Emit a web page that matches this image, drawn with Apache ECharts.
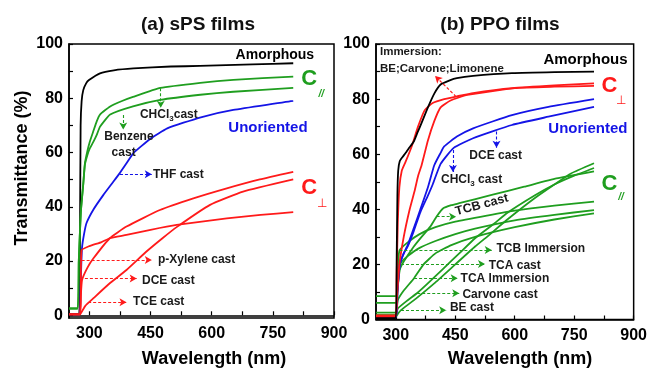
<!DOCTYPE html>
<html><head><meta charset="utf-8">
<script src="https://cdn.jsdelivr.net/npm/echarts@6/dist/echarts.min.js"></script>
<style>html,body{margin:0;padding:0;background:#fff}#c{width:650px;height:368px}</style>
</head><body><div id="c"></div>
<script>
// ---------- tick labels ----------
const xTickLabels = [300, 450, 600, 750, 900];
const xTickMarks = [300, 375, 450, 525, 600, 675, 750, 825, 900];
const yTickLabels = [0, 20, 40, 60, 80, 100];
const yTickMarks = [0, 10, 20, 30, 40, 50, 60, 70, 80, 90, 100];

// ---------- (a) sPS films : [wavelength nm, transmittance %] ----------
const sPS_amorphous = [[250,0.5],[275,0.5],[277,30],[278.5,70],[281,79],[285,83],[292,85.5],[299,86.7],[326,89.2],[360,90.3],[408,91],[500,91.7],[571,91.9],[700,92.5],[800,92.9]];
const sPS_Cpar_benzene = [[250,2.5],[271,2.5],[274,20],[279,38],[285,48.4],[289,56],[295,60.5],[301,64],[310,68],[318,71.5],[326,74],[351,77],[380,79],[407,80.5],[474,83.8],[572,85.7],[653,86.8],[800,88]];
const sPS_Cpar_chcl3 = [[250,2.5],[271,2.5],[274,20],[279,38],[285,48.4],[289,55.5],[295,59],[301,61.5],[310,64],[318,66.5],[326,69.5],[351,74],[407,77],[474,79.4],[572,81.3],[653,82.4],[800,83.8]];
const sPS_unoriented_thf = [[250,0.3],[276,0.3],[278,8],[280,18],[282,25],[287,30],[293,34],[310,39],[334,44.3],[355,48.5],[375,52.5],[391,56],[408,59.8],[449,65],[491,68.9],[571,72.9],[653,75.7],[800,79]];
const sPS_Cperp_pxylene = [[250,0.3],[277,0.3],[279,12],[281,24],[300,25.5],[330,27],[350,28.4],[391,29.6],[450,31.5],[514,33.3],[637,35.7],[720,37],[800,38]];
const sPS_Cperp_dce = [[250,0.3],[277,0.3],[279,7],[282,13],[295,17.5],[310,21],[350,28.4],[391,32.7],[473,38.8],[555,43.1],[637,46.8],[718,50.1],[800,52.9]];
const sPS_Cperp_tce = [[250,0.3],[277,0.3],[282,1.5],[290,3.5],[310,6.3],[350,11.8],[391,16.7],[440,23.5],[480,28.5],[514,32.5],[596,40.7],[677,45.6],[800,50.1]];

// ---------- (b) PPO films ----------
const PPO_amorphous = [[250,0.5],[300,0.5],[302,20],[304,45],[306,54],[310,57.5],[317,59],[325,60.5],[332,62],[345,64.5],[355,68],[364,71],[381,77],[397,82],[413,85.3],[436,86.8],[454,87.6],[495,88.4],[593,89.4],[700,89.8],[800,90]];
const PPO_Cperp_1 = [[250,1],[300,1],[302,15],[305,35],[309,48],[315,54],[324,57],[340,62.8],[356,70],[373,76],[393,78.6],[422,80],[454,81],[495,82.2],[593,84],[700,85],[800,85.7]];
const PPO_Cperp_2 = [[250,1.5],[300,1.5],[303,8],[309,20],[320,30],[335,40],[348,47],[356,52],[365,56],[381,65],[397,72],[413,77],[438,79.5],[480,81.5],[600,84],[700,84.5],[800,84.8]];
const PPO_unoriented_dce = [[250,1],[300,1],[304,10],[310,20],[320,24],[330,27],[345,33],[362,40],[381,48],[397,56],[413,60.5],[422,62.8],[454,66.4],[495,69.4],[593,74.2],[685,77.2],[800,80]];
const PPO_unoriented_chcl3 = [[250,1],[300,1],[304,10],[310,20],[320,24],[330,26.5],[345,32],[362,39],[381,45],[393,49],[413,56.5],[446,62.3],[495,65.8],[593,70.6],[685,73.6],[800,77.2]];
const PPO_Cpar_tcbCast = [[250,1.5],[300,1.5],[304,10],[310,18],[320,21],[345,26.4],[365,30],[387,33.7],[403,37.4],[419,40.3],[440,41.5],[460,42.2],[542,45.2],[624,48.2],[705,51.2],[800,53.8]];
const PPO_Cpar_tcbImm = [[250,6],[300,6],[304,15],[309,25],[330,28],[360,31],[400,33.5],[450,35.5],[530,37.7],[600,39.5],[700,41.3],[800,42.8]];
const PPO_Cpar_tcaCast = [[250,8.5],[300,8.5],[305,15],[313,20.6],[330,23],[360,26],[400,28.5],[450,31],[500,33],[600,36],[700,38],[800,39.7]];
const PPO_Cpar_tcaImm = [[250,2.5],[300,2.5],[305,7],[320,10.5],[346,15],[370,20],[400,24],[440,27],[500,30],[600,33.5],[700,36.3],[800,38.5]];
const PPO_Cpar_carvone = [[250,1.6],[300,1.6],[305,4],[330,7],[354,9.6],[380,13],[420,18.5],[460,24],[500,29.5],[550,35],[579,38.5],[650,45],[700,49],[750,52.2],[800,55]];
const PPO_Cpar_be = [[250,1],[300,1],[305,2],[313,3.4],[350,7.5],[400,13.5],[450,20],[500,26.5],[530,30],[579,36],[650,44],[700,49],[742,53],[800,56.7]];

// ---------- colours / fonts ----------
const BLACK = '#000000', GREEN = '#1f9e1f', BLUE = '#1414e6', RED = '#ff1a1a', TXT = '#1a1a1a';
const FF = 'Liberation Sans, Arial, sans-serif';

// annotation arrows: [x1, y1, x2, y2, colour]
const arrowsA = [
  [475, 83.7, 475, 76.5, GREEN],
  [383, 73.8, 383, 68.5, GREEN],
  [375, 52, 453, 52, BLUE],
  [281, 20.4, 453, 20.4, RED],
  [289, 13.6, 416, 13.6, RED],
  [297, 4.8, 391, 4.8, RED]
];
const arrowsB = [
  [452, 80.9, 399, 88.4, RED],
  [554, 68.2, 554, 62.3, BLUE],
  [444, 61.5, 444, 53.5, BLUE],
  [403, 37.3, 452, 37.3, GREEN],
  [309, 25.2, 542, 25.2, GREEN],
  [313, 20.1, 525, 20.1, GREEN],
  [346, 15, 456, 15, GREEN],
  [354, 9.5, 460, 9.5, GREEN],
  [313, 3.4, 427, 3.4, GREEN]
];

function mk(name, data, color, xi) {
  return { name, type: 'line', xAxisIndex: xi, yAxisIndex: xi, data, showSymbol: false,
    smooth: 0.15, lineStyle: { color, width: 1.8, join: 'round' }, itemStyle: { color }, z: 3 };
}
function arrowSeries(list, xi) {
  return list.map(a => ({
    type: 'line', xAxisIndex: xi, yAxisIndex: xi, data: [], silent: true,
    markLine: { silent: true, symbol: ['none', 'arrow'], symbolSize: [6, 7], animation: false,
      label: { show: false }, lineStyle: { color: a[4], type: [3, 2], width: 1.1 },
      data: [[{ coord: [a[0], a[1]] }, { coord: [a[2], a[3]] }]] }
  }));
}

function xAxisCfg(gi) {
  return { type: 'value', gridIndex: gi, min: 250, max: 900,
    axisLine: { show: true, lineStyle: { color: '#000', width: 1.5 } },
    axisTick: { show: true, inside: true, length: 4, customValues: xTickMarks, lineStyle: { color: '#000', width: 1.2 } },
    axisLabel: { customValues: xTickLabels, color: '#000', fontSize: 16, fontWeight: 'bold', fontFamily: FF, margin: 8 },
    splitLine: { show: false } };
}
function yAxisCfg(gi, mn) {
  return { type: 'value', gridIndex: gi, min: mn, max: 100,
    axisLine: { show: true, lineStyle: { color: '#000', width: 1.5 } },
    axisTick: { show: true, inside: true, length: 4, customValues: yTickMarks, lineStyle: { color: '#000', width: 1.2 } },
    axisLabel: { customValues: yTickLabels, color: '#000', fontSize: 16, fontWeight: 'bold', fontFamily: FF, margin: 6 },
    splitLine: { show: false } };
}

const chart = echarts.init(document.getElementById('c'), null, { renderer: 'canvas' });
chart.setOption({
  animation: false,
  backgroundColor: '#fff',
  grid: [
    { left: 69, top: 44, width: 265, height: 274, show: true, borderColor: '#000', borderWidth: 1.5 },
    { left: 376, top: 44, width: 265, height: 275.5, show: true, borderColor: '#000', borderWidth: 1.5 }
  ],
  xAxis: [xAxisCfg(0), xAxisCfg(1)],
  yAxis: [yAxisCfg(0, -1), yAxisCfg(1, 0)],
  series: [
    mk('sPS amorphous', sPS_amorphous, BLACK, 0),
    mk('sPS C// benzene', sPS_Cpar_benzene, GREEN, 0),
    mk('sPS C// CHCl3', sPS_Cpar_chcl3, GREEN, 0),
    mk('sPS unoriented THF', sPS_unoriented_thf, BLUE, 0),
    mk('sPS Cperp p-xylene', sPS_Cperp_pxylene, RED, 0),
    mk('sPS Cperp DCE', sPS_Cperp_dce, RED, 0),
    mk('sPS Cperp TCE', sPS_Cperp_tce, RED, 0),
    mk('PPO C// TCB cast', PPO_Cpar_tcbCast, GREEN, 1),
    mk('PPO C// TCB imm', PPO_Cpar_tcbImm, GREEN, 1),
    mk('PPO C// TCA cast', PPO_Cpar_tcaCast, GREEN, 1),
    mk('PPO C// TCA imm', PPO_Cpar_tcaImm, GREEN, 1),
    mk('PPO C// carvone', PPO_Cpar_carvone, GREEN, 1),
    mk('PPO C// BE', PPO_Cpar_be, GREEN, 1),
    mk('PPO unoriented DCE', PPO_unoriented_dce, BLUE, 1),
    mk('PPO unoriented CHCl3', PPO_unoriented_chcl3, BLUE, 1),
    mk('PPO Cperp 1', PPO_Cperp_1, RED, 1),
    mk('PPO Cperp 2', PPO_Cperp_2, RED, 1),
    mk('PPO amorphous', PPO_amorphous, BLACK, 1)
  ].concat(arrowSeries(arrowsA, 0), arrowSeries(arrowsB, 1))
});

// text annotations anchored in data coordinates: [grid, x, y, text, colour, size, weight, align, rotationDeg, rich, style]
const SUB = { sub: { fontSize: 8, fontFamily: FF, fontWeight: 'bold', fill: TXT, padding: [7, 0, 0, 0] } };
const notes = [
  [0, 755, 96, 'Amorphous', BLACK, 14, 'bold', 'center'],
  [0, 839, 87, 'C', GREEN, 22, 'bold', 'center'],
  [0, 869, 81.5, '//', GREEN, 10, 'bold', 'center', 0, null, 'italic'],
  [0, 424, 73.8, 'CHCl{sub|3}cast', TXT, 12, 'bold', 'left', 0, SUB],
  [0, 397, 65.7, 'Benzene', TXT, 12, 'bold', 'center'],
  [0, 384, 59.8, 'cast', TXT, 12, 'bold', 'center'],
  [0, 738, 69, 'Unoriented', BLUE, 15, 'bold', 'center'],
  [0, 456, 52, 'THF cast', TXT, 12, 'bold', 'left'],
  [0, 839, 47, 'C', RED, 22, 'bold', 'center'],
  [0, 871, 41.3, '⊥', RED, 12, 'normal', 'center'],
  [0, 468, 20.4, 'p-Xylene cast', TXT, 12, 'bold', 'left'],
  [0, 429, 12.8, 'DCE cast', TXT, 12, 'bold', 'left'],
  [0, 407, 4.9, 'TCE cast', TXT, 12, 'bold', 'left'],
  [1, 260, 97.1, 'Immersion:', TXT, 11.5, 'bold', 'left'],
  [1, 260, 91, 'BE;Carvone;Limonene', TXT, 11.5, 'bold', 'left'],
  [1, 778.5, 94.2, 'Amorphous', BLACK, 15, 'bold', 'center'],
  [1, 838.7, 84.8, 'C', RED, 22, 'bold', 'center'],
  [1, 868, 79.3, '⊥', RED, 12, 'normal', 'center'],
  [1, 784.7, 69.1, 'Unoriented', BLUE, 15, 'bold', 'center'],
  [1, 485.5, 59.5, 'DCE cast', TXT, 12, 'bold', 'left'],
  [1, 414, 50.6, 'CHCl{sub|3} cast', TXT, 12, 'bold', 'left', 0, SUB],
  [1, 838.7, 49.2, 'C', GREEN, 22, 'bold', 'center'],
  [1, 868, 44.3, '//', GREEN, 10, 'bold', 'center', 0, null, 'italic'],
  [1, 517, 41.6, 'TCB cast', TXT, 12.5, 'bold', 'center', 15],
  [1, 554, 25.6, 'TCB Immersion', TXT, 12, 'bold', 'left'],
  [1, 534.5, 19.5, 'TCA cast', TXT, 12, 'bold', 'left'],
  [1, 463.4, 14.8, 'TCA Immersion', TXT, 12, 'bold', 'left'],
  [1, 468, 9.1, 'Carvone cast', TXT, 12, 'bold', 'left'],
  [1, 436.4, 4.3, 'BE cast', TXT, 12, 'bold', 'left']
];

const gfx = notes.map(n => {
  const p = chart.convertToPixel({ xAxisIndex: n[0], yAxisIndex: n[0] }, [n[1], n[2]]);
  const st = { text: n[3], fill: n[4], fontSize: n[5], fontWeight: n[6], fontFamily: FF,
    align: n[7], verticalAlign: 'middle', fontStyle: n[10] || 'normal' };
  if (n[9]) st.rich = n[9];
  return { type: 'text', x: p[0], y: p[1], rotation: (n[8] || 0) * Math.PI / 180, style: st, z: 10 };
});

// titles and axis names (layout text)
gfx.push(
  { type: 'text', x: 198, y: 25, style: { text: '(a) sPS films', fontSize: 19, fontWeight: 'bold', fontFamily: FF, fill: '#111', align: 'center', verticalAlign: 'middle' } },
  { type: 'text', x: 500, y: 25, style: { text: '(b) PPO films', fontSize: 19, fontWeight: 'bold', fontFamily: FF, fill: '#111', align: 'center', verticalAlign: 'middle' } },
  { type: 'text', x: 214, y: 359, style: { text: 'Wavelength (nm)', fontSize: 18, fontWeight: 'bold', fontFamily: FF, fill: '#000', align: 'center', verticalAlign: 'middle' } },
  { type: 'text', x: 520, y: 359, style: { text: 'Wavelength (nm)', fontSize: 18, fontWeight: 'bold', fontFamily: FF, fill: '#000', align: 'center', verticalAlign: 'middle' } },
  { type: 'text', x: 22, y: 168, rotation: Math.PI / 2, style: { text: 'Transmittance (%)', fontSize: 18, fontWeight: 'bold', fontFamily: FF, fill: '#000', align: 'center', verticalAlign: 'middle' } }
);
chart.setOption({ graphic: gfx });
</script></body></html>
